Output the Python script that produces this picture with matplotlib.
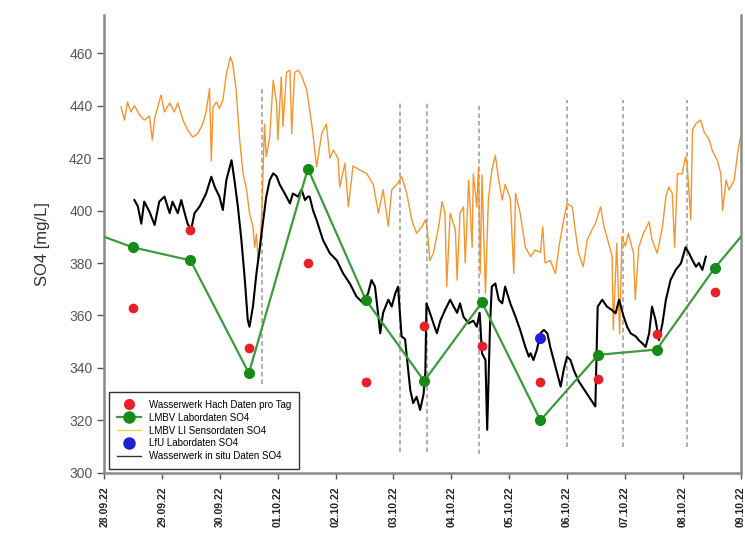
import matplotlib
matplotlib.use('Agg')
import matplotlib.pyplot as plt
from matplotlib.lines import Line2D

# x = Tage ab 28.09.22 00:00
tage_labels = ['28.09.22', '29.09.22', '30.09.22', '01.10.22', '02.10.22', '03.10.22',
               '04.10.22', '05.10.22', '06.10.22', '07.10.22', '08.10.22', '09.10.22']

# Wasserwerk Hach, Tageswerte
hach_t = [0.49, 1.49, 2.50, 3.52, 4.52, 5.53, 6.53, 7.54, 8.54, 9.55, 10.55]
hach_so4 = [363, 392.6, 347.6, 380, 334.7, 356, 348.4, 334.7, 335.8, 353, 369]

# LMBV Labor (erster und letzter Wert liegen ausserhalb des Zeitraums)
lab_t = [-0.5, 0.49, 1.49, 2.50, 3.52, 4.52, 5.53, 6.53, 7.54, 8.54, 9.55, 10.55, 11.5]
lab_so4 = [394, 386, 381, 338, 416, 366, 335, 365, 320, 345, 347, 378, 403]

# LfU Labor
lfu_t = [7.54]
lfu_so4 = [351.4]

# LMBV LI Sensor
sens_t = [0.29, 0.35, 0.40, 0.46, 0.52, 0.61, 0.69, 0.78, 0.83, 0.87, 0.98, 1.04, 1.13, 1.21,
          1.27, 1.36, 1.44, 1.53, 1.62, 1.70, 1.76, 1.82, 1.85, 1.88, 1.94, 1.99, 2.05, 2.11,
          2.18, 2.22, 2.28, 2.34, 2.40, 2.46, 2.51, 2.57, 2.60, 2.63, 2.66, 2.69, 2.73, 2.77,
          2.80, 2.86, 2.92, 2.98, 3.00, 3.06, 3.09, 3.15, 3.21, 3.24, 3.29, 3.35, 3.41, 3.50,
          3.60, 3.67, 3.76, 3.84, 3.90, 3.96, 4.04, 4.07, 4.16, 4.22, 4.30, 4.42, 4.54, 4.65,
          4.74, 4.82, 4.91, 4.97, 5.06, 5.14, 5.23, 5.32, 5.40, 5.49, 5.55, 5.58, 5.63, 5.69,
          5.78, 5.84, 5.89, 5.92, 5.98, 6.07, 6.10, 6.15, 6.21, 6.24, 6.30, 6.36, 6.38, 6.44,
          6.47, 6.50, 6.53, 6.59, 6.64, 6.70, 6.76, 6.82, 6.88, 6.93, 7.02, 7.08, 7.11, 7.19,
          7.28, 7.34, 7.37, 7.45, 7.54, 7.58, 7.62, 7.71, 7.80, 7.86, 7.92, 8.00, 8.09, 8.15,
          8.20, 8.28, 8.35, 8.43, 8.49, 8.58, 8.64, 8.72, 8.78, 8.80, 8.86, 8.91, 8.95, 9.01,
          9.06, 9.15, 9.18, 9.24, 9.32, 9.42, 9.47, 9.56, 9.65, 9.71, 9.76, 9.82, 9.86, 9.91,
          9.99, 10.05, 10.08, 10.14, 10.17, 10.23, 10.31, 10.37, 10.46, 10.51, 10.60, 10.66,
          10.69, 10.75, 10.80, 10.89, 10.95, 11.00]
sens_so4 = [439.5, 434.5, 441.4, 437.6, 440, 436.4, 434.5, 436, 426.9, 435, 444, 437.6, 441, 437.6,
            441, 434.5, 430.7, 428, 429.4, 433, 437.6, 446.5, 419, 439.5, 441.4, 438.9, 442.1, 452,
            458.6, 456, 446, 427, 414, 408, 399, 393.8, 386, 391, 381, 384, 404, 433,
            420.5, 428, 449.7, 440.8, 427, 451, 432, 452.7, 453.5, 429.4, 452.7, 453.5, 451.5, 446,
            430.7, 416.7, 429.5, 433, 420, 423, 420, 409, 418, 401.4, 417, 415.4, 414, 410,
            399, 408, 394, 408, 410, 413, 406.5, 396, 391.3, 393.8, 396.4, 393.8, 381, 383.7,
            393.8, 403.4, 399, 371, 399, 392.6, 373.5, 399, 401.4, 380, 411.6, 386, 414, 401.4,
            416.7, 376, 413.5, 368.4, 404, 415.4, 421, 411.6, 404, 410, 404.5, 376, 406.5, 399,
            386, 383.7, 382.4, 385, 384, 393.8, 380, 381, 376, 386, 393.8, 402.7, 401.4, 391.3,
            383.7, 378.6, 388.8, 392.6, 395, 401.4, 393.8, 387.5, 382.4, 354.5, 387.5, 353, 390, 386.4,
            391.3, 383.7, 366, 386, 391.3, 395.7, 388.8, 383.7, 393.8, 405.4, 409, 406.5, 386, 414,
            414, 420.5, 416.7, 396.4, 430.7, 433.2, 434.5, 430, 426.9, 423, 419, 414,
            400, 411.6, 407.8, 411.6, 421.8, 428]

# Wasserwerk in situ
insitu_t = [0.52, 0.58, 0.64, 0.69, 0.78, 0.87, 0.95, 1.04, 1.13, 1.18, 1.27, 1.33, 1.39, 1.44,
            1.50, 1.56, 1.65, 1.76, 1.85, 1.91, 1.99, 2.05, 2.11, 2.20, 2.25, 2.31, 2.37, 2.43,
            2.48, 2.51, 2.57, 2.63, 2.69, 2.74, 2.80, 2.86, 2.92, 2.98, 3.03, 3.12, 3.21, 3.26,
            3.35, 3.41, 3.47, 3.52, 3.55, 3.61, 3.67, 3.78, 3.90, 4.02, 4.13, 4.25, 4.36, 4.48,
            4.56, 4.62, 4.68, 4.74, 4.77, 4.82, 4.91, 4.97, 5.03, 5.08, 5.11, 5.14, 5.20, 5.23,
            5.29, 5.34, 5.40, 5.46, 5.52, 5.55, 5.57, 5.63, 5.69, 5.75, 5.81, 5.89, 5.98, 6.04,
            6.10, 6.15, 6.21, 6.30, 6.38, 6.44, 6.49, 6.53, 6.59, 6.62, 6.67, 6.70, 6.76, 6.82,
            6.88, 6.93, 7.02, 7.11, 7.19, 7.28, 7.34, 7.37, 7.42, 7.48, 7.54, 7.60, 7.66, 7.71,
            7.77, 7.83, 7.89, 7.94, 8.00, 8.06, 8.12, 8.20, 8.35, 8.49, 8.53, 8.61, 8.69, 8.78,
            8.84, 8.90, 8.98, 9.04, 9.10, 9.19, 9.24, 9.30, 9.36, 9.42, 9.47, 9.53, 9.59, 9.65,
            9.71, 9.79, 9.88, 9.97, 10.05, 10.11, 10.17, 10.23, 10.28, 10.34, 10.40]
insitu_so4 = [404, 401.6, 395, 403.4, 399.6, 394.5, 403.4, 405.3, 399, 403.4, 399, 404, 399, 395,
              392.6, 399, 401.6, 406.5, 412.9, 409, 405.3, 400.2, 411.6, 419.2, 411.6, 401.4, 388.8, 373.5,
              358.3, 355.7, 363.4, 376, 386, 395, 405.3, 411.6, 414.2, 413, 410, 406.5, 402.7, 406.5,
              405.3, 408, 404, 405.3, 405.3, 400, 396.4, 388.8, 383.7, 381, 376, 372, 367.2, 364.6,
              368.4, 373.5, 371, 359.5, 353.2, 361, 366, 363.4, 368.4, 371, 361, 352, 351, 344.3,
              331.6, 326.6, 329, 324, 330, 338, 364.6, 361, 357, 353.2, 358, 362, 366, 363.4,
              361, 364.6, 359.5, 357, 358, 355.7, 361, 345.6, 343, 316.4, 357, 371, 372.2, 366,
              364.6, 371, 364.6, 359.5, 354.5, 348, 344.3, 345.6, 343, 347, 353.2, 354.5, 353.2, 348,
              343, 338, 332.9, 339, 344.3, 343, 339, 335, 330, 325.3, 363.4, 366, 363.4, 362,
              360.8, 366, 359.5, 355.7, 353.2, 352, 350.6, 349.4, 348, 353.2, 363.4, 358.3, 350.6, 357,
              366, 373.5, 377.4, 379.9, 386, 383.7, 381, 378.6, 380, 377.4, 382.4]

# Ereignisse (gestrichelte Linien) mit Unter-/Obergrenze
ereignis_t = [2.73, 5.11, 5.58, 6.47, 8.00, 8.97, 10.08]
ereignis_unten = [334, 308, 308, 307, 310, 310, 310]
ereignis_oben = [447, 441, 441, 441, 442, 442, 442]

plt.rcParams['font.family'] = ['Liberation Sans', 'DejaVu Sans']

fig = plt.figure(figsize=(7.45, 5.41), dpi=100)
ax = fig.add_axes([0.14, 0.126, 0.854, 0.846])

for t, u, o in zip(ereignis_t, ereignis_unten, ereignis_oben):
    ax.plot([t, t], [u, o], color='#9a9a9a', lw=1.1, ls=(0, (3, 2)), zorder=1)

ax.plot(sens_t, sens_so4, color='#f5952f', lw=1.0, zorder=2)
ax.plot(insitu_t, insitu_so4, color='black', lw=1.5, zorder=3)
ax.plot(lab_t, lab_so4, color='#3d9a3d', lw=1.6, zorder=4)
ax.plot(lab_t, lab_so4, 'o', color='#178a17', ms=7, zorder=5)
ax.plot(hach_t, hach_so4, 'o', color='#e8202a', ms=7, mec='none', zorder=6)
ax.plot(lfu_t, lfu_so4, 'o', color='#2020d8', ms=8, mec='none', zorder=6)

ax.set_xlim(0, 11.0)
ax.set_ylim(300, 474.5)
ax.set_xticks(range(len(tage_labels)))
ax.set_xticklabels(tage_labels, rotation=90, fontsize=7.5, color='#222222', fontweight='bold')
ax.set_yticks(range(300, 461, 20))
ax.tick_params(axis='y', labelsize=10, colors='#555555', length=5, width=1)
ax.tick_params(axis='x', length=4, width=1, color='#555555', pad=6)
ax.set_ylabel('SO4 [mg/L]', fontsize=12, color='#333333', labelpad=14)

for s in ['left', 'bottom', 'right']:
    ax.spines[s].set_color('#8a8a8a')
    ax.spines[s].set_linewidth(1.8)
ax.spines['top'].set_visible(False)

handles = [
    Line2D([], [], ls='none', marker='o', color='#e8202a', ms=8, mec='none'),
    Line2D([], [], color='#3d9a3d', lw=1.6, marker='o', mfc='#178a17', mec='#178a17', ms=8),
    Line2D([], [], color='#f5d060', lw=1.0),
    Line2D([], [], ls='none', marker='o', color='#2020d8', ms=9, mec='none'),
    Line2D([], [], color='#333333', lw=1.0),
]
labels = ['Wasserwerk Hach Daten pro Tag', 'LMBV Labordaten SO4', 'LMBV LI Sensordaten SO4',
          'LfU Labordaten SO4', 'Wasserwerk in situ Daten SO4']
leg = ax.legend(handles, labels, loc='lower left', bbox_to_anchor=(0.008, 0.008),
                borderaxespad=0, fontsize=7, fancybox=False, framealpha=1,
                handlelength=2.5, handletextpad=0.8, labelspacing=0.3, borderpad=0.8)
leg.get_frame().set_edgecolor('#333333')
leg.get_frame().set_linewidth(1.0)
leg.set_zorder(10)

fig.savefig('out.png', dpi=100)
